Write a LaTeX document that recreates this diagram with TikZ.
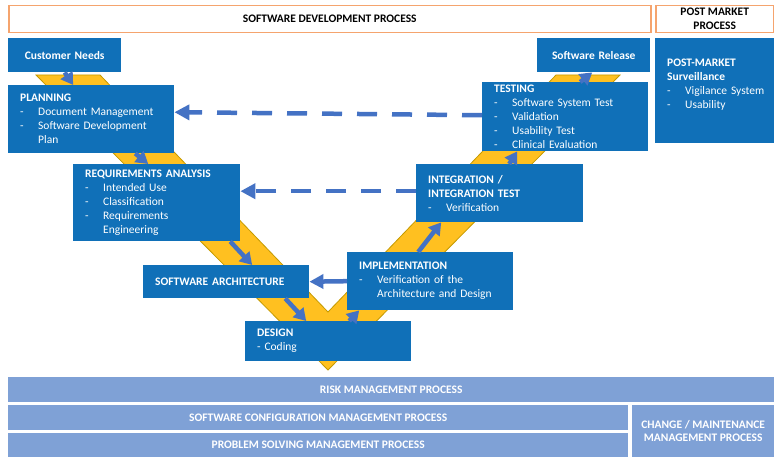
\documentclass[tikz,border=0pt]{standalone}
\usepackage{fontspec}
\setmainfont{Carlito}
\usetikzlibrary{arrows.meta}

\definecolor{vblue}{HTML}{1070B8}
\definecolor{arrblue}{HTML}{4472C4}
\definecolor{barblue}{HTML}{7FA1D6}
\definecolor{hdrorange}{HTML}{F5A46E}
\definecolor{vgold}{HTML}{FFC020}
\definecolor{vgoldline}{HTML}{C49A00}

\newcommand{\itm}[1]{\makebox[18pt][l]{-}#1}
\newcommand{\cont}{\hspace*{18pt}}

\begin{document}
\begin{tikzpicture}[x=1pt, y=-1pt,
    blk/.style={fill=vblue, text=white, anchor=north west, align=left, inner xsep=12pt, inner ysep=0pt, font=\fontsize{11.5}{14}\selectfont},
    hdr/.style={draw=hdrorange, line width=1.5pt, fill=white, anchor=north west, align=center, inner sep=0pt, font=\fontsize{11.5}{14}\selectfont\bfseries},
    bar/.style={fill=barblue, text=white, anchor=north west, align=center, inner sep=0pt, font=\fontsize{11.5}{12.5}\selectfont\bfseries},
    flow/.style={draw=arrblue, line width=4.5pt, -{Triangle[width=14pt,length=12pt]}},
    back/.style={flow, dash pattern=on 20pt off 15pt, -{Triangle[width=15pt,length=15pt]}}]
    \useasboundingbox (0,0) rectangle (774,457);

    % the V band
    \filldraw[fill=vgold, draw=vgoldline, line width=0.8pt] (36,75) -- (100,75) -- (328,312) -- (556,75) -- (620,75) -- (328,370) -- cycle;

    \node[hdr, minimum width=642pt, minimum height=27pt] (sdp) at (8,5) {SOFTWARE DEVELOPMENT PROCESS};
    \node[hdr, minimum width=118pt, minimum height=27pt] (pmp) at (655,5) {POST MARKET\\PROCESS};

    \node[blk, text width=89pt, minimum height=34pt, align=center] (cust) at (8,38) {\bfseries Customer Needs};
    \node[blk, text width=89pt, minimum height=34pt, align=center] (rel) at (537,38) {\bfseries Software Release};
    \node[blk, text width=142pt, minimum height=68pt] (plan) at (8,85) {\textbf{PLANNING}\\\itm{Document Management}\\\itm{Software Development}\\\cont Plan};
    \node[blk, text width=142pt, minimum height=69pt] (test) at (482,82) {\textbf{TESTING}\\\itm{Software System Test}\\\itm{Validation}\\\itm{Usability Test}\\\itm{Clinical Evaluation}};
    \node[blk, text width=143pt, minimum height=77pt] (req) at (73,164) {\textbf{REQUIREMENTS ANALYSIS}\\\itm{Intended Use}\\\itm{Classification}\\\itm{Requirements}\\\cont Engineering};
    \node[blk, text width=143pt, minimum height=58pt] (integ) at (416,164) {\textbf{INTEGRATION /}\\\textbf{INTEGRATION TEST}\\\itm{Verification}};
    \node[blk, text width=142pt, minimum height=33pt] (arch) at (143,265) {\textbf{SOFTWARE ARCHITECTURE}};
    \node[blk, text width=142pt, minimum height=58pt] (impl) at (347,252) {\textbf{IMPLEMENTATION}\\\itm{Verification of the}\\\cont Architecture and Design};
    \node[blk, text width=142pt, minimum height=40pt] (des) at (245,321) {\textbf{DESIGN}\\- Coding};
    \node[blk, text width=95pt, minimum height=105pt] (post) at (655,38) {\textbf{POST-MARKET}\\\textbf{Surveillance}\\\mbox{\itm{Vigilance System}}\\\itm{Usability}\\\mbox{}};

    \node[bar, minimum width=766pt, minimum height=25pt] (risk) at (8,377) {RISK MANAGEMENT PROCESS};
    \node[bar, minimum width=620pt, minimum height=25pt] (scm) at (8,405) {SOFTWARE CONFIGURATION MANAGEMENT PROCESS};
    \node[bar, minimum width=620pt, minimum height=24pt] (psm) at (8,433) {PROBLEM SOLVING MANAGEMENT PROCESS};
    \node[bar, minimum width=142pt, minimum height=52pt] (cmm) at (632,405) {CHANGE / MAINTENANCE\\MANAGEMENT PROCESS};

    % flow along the V
    \draw[flow] (cust.south) -- ([xshift=-18pt]plan.north);
    \draw[flow] ([xshift=44pt]plan.south) -- ([xshift=-8.5pt]req.north);
    \draw[flow] ([xshift=73.5pt]req.south) -- ([xshift=26pt]arch.north);
    \draw[flow] ([xshift=59pt]arch.south) -- ([xshift=-22pt]des.north);
    \draw[flow] ([xshift=21pt]des.north) -- ([xshift=-71pt]impl.south);
    \draw[flow] ([xshift=-12pt]impl.north) -- ([xshift=-58.5pt]integ.south);
    \draw[flow] ([xshift=9.5pt]integ.north) -- ([xshift=-48pt]test.south);
    \draw[flow] ([xshift=15pt]test.north) -- ([xshift=-1.5pt]rel.south);

    % verification links
    \draw[back] ([yshift=1.5pt]test.west) -- ([yshift=7pt]plan.east);
    \draw[back] ([yshift=2pt]integ.west) -- ([yshift=11.5pt]req.east);
    \draw[flow, -{Triangle[width=14pt,length=14pt]}] (impl.west) -- (arch.east);
\end{tikzpicture}
\end{document}
